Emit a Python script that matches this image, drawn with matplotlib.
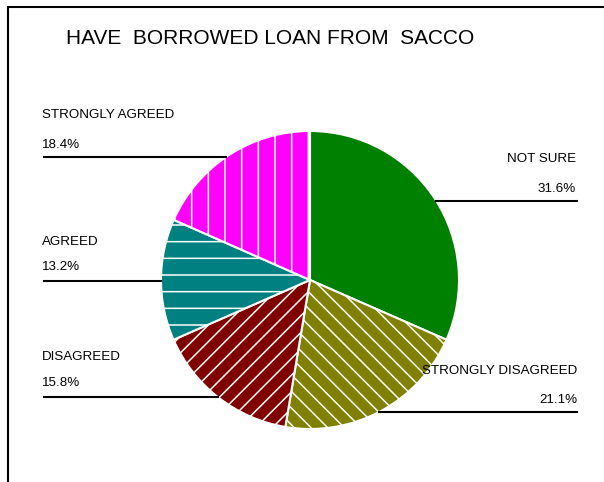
import numpy as np
import matplotlib.pyplot as plt

plt.rcParams['font.family'] = ['Liberation Sans', 'DejaVu Sans']
plt.rcParams['hatch.linewidth'] = 1.1

# Survey answers, percent of respondents
categories = ['NOT SURE', 'STRONGLY DISAGREED', 'DISAGREED', 'AGREED', 'STRONGLY AGREED']
percents = [31.6, 21.1, 15.8, 13.2, 18.4]
colors = ['#008000', '#808000', '#800000', '#008080', '#ff00ff']
hatches = ['', '\\\\', '//', '-', '|']

W, H = 604, 482
cx, cy, r = 310, H - 280, 149

# label placement: side, text x, name y, percent y, leader line y (pixel rows)
label_side = ['right', 'right', 'left', 'left', 'left']
label_x = [576, 577, 42, 42, 42]
name_y = [159, 371, 357, 242, 115]
pct_y = [189, 400, 383, 267, 145]
line_y = [201, 412, 397, 281, 157]

fig = plt.figure(figsize=(W / 100, H / 100), dpi=100)
ax = fig.add_axes([0, 0, 1, 1])

wedges, _ = ax.pie(percents, colors=colors, startangle=90, counterclock=False,
                   center=(cx, cy), radius=r,
                   wedgeprops=dict(edgecolor='white', linewidth=1.5))
for w, h in zip(wedges, hatches):
    w.set_hatch(h)

for name, p, side, tx, ny, py, ly in zip(categories, percents, label_side,
                                          label_x, name_y, pct_y, line_y):
    yl = H - ly
    dx = np.sqrt(max(r**2 - (yl - cy)**2, 0))
    ha = 'left' if side == 'left' else 'right'
    ax.text(tx, H - ny, name, ha=ha, va='center', fontsize=9.6)
    ax.text(tx, H - py, f'{p:.1f}%', ha=ha, va='center', fontsize=9.6)
    if side == 'left':
        ax.plot([44, cx - dx], [yl, yl], color='black', lw=1.5)
    else:
        ax.plot([cx + dx, 577], [yl, yl], color='black', lw=1.5)

ax.text(270, H - 38, 'HAVE  BORROWED LOAN FROM  SACCO', ha='center', va='center',
        fontsize=15)

# frame around the chart area (top and left edges)
ax.plot([7, W], [H - 7, H - 7], color='black', lw=1.5, solid_capstyle='butt')
ax.plot([8, 8], [H - 7, 0], color='black', lw=1.5, solid_capstyle='butt')

ax.set_xlim(0, W)
ax.set_ylim(0, H)
ax.set_aspect('equal')
ax.axis('off')

fig.savefig('out.png', dpi=100, facecolor='white')
